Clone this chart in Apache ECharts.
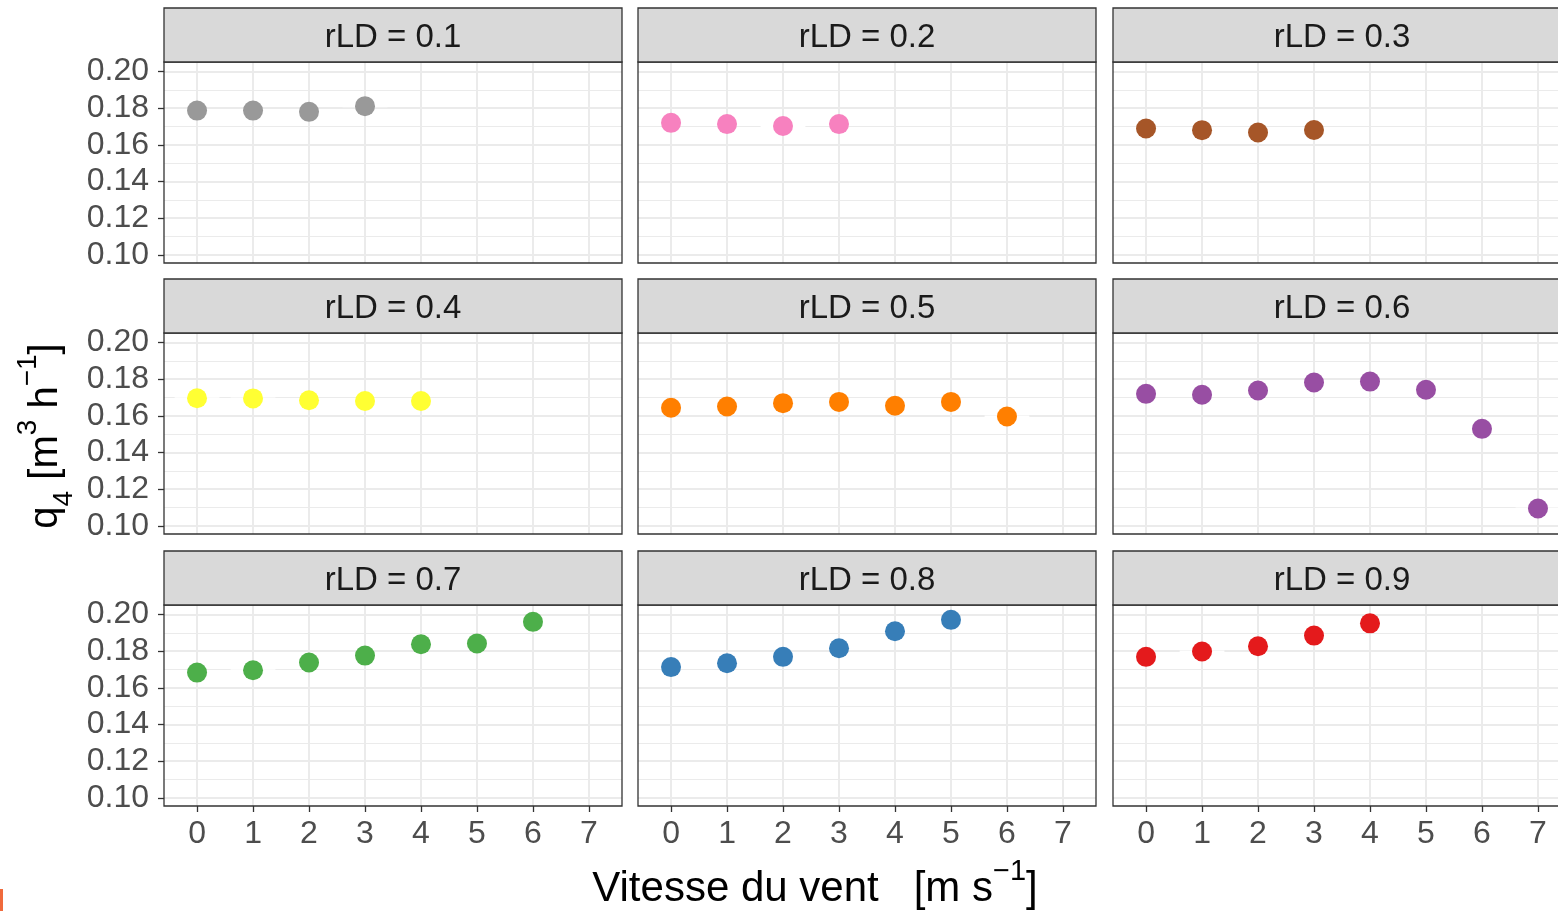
<!DOCTYPE html>
<html>
<head>
<meta charset="utf-8">
<script src="https://cdn.jsdelivr.net/npm/echarts@6/dist/echarts.min.js"></script>
<style>
  html, body { margin: 0; padding: 0; background: #ffffff; overflow: hidden; }
  #chart { width: 1558px; height: 911px; }
</style>
</head>
<body>
<div id="chart"></div>
<script>
// ---------------- data ----------------
const categories = ['rLD = 0.1', 'rLD = 0.2', 'rLD = 0.3', 'rLD = 0.4', 'rLD = 0.5', 'rLD = 0.6', 'rLD = 0.7', 'rLD = 0.8', 'rLD = 0.9'];
const windSpeed = [0, 1, 2, 3, 4, 5, 6, 7];
const q4_rLD01 = [0.1787, 0.1787, 0.1780, 0.1811];
const q4_rLD02 = [0.1720, 0.1713, 0.1703, 0.1713];
const q4_rLD03 = [0.1689, 0.1680, 0.1667, 0.1681];
const q4_rLD04 = [0.1696, 0.1695, 0.1685, 0.1681, 0.1681];
const q4_rLD05 = [0.1644, 0.1651, 0.1669, 0.1676, 0.1655, 0.1676, 0.1596];
const q4_rLD06 = [0.1720, 0.1715, 0.1738, 0.1782, 0.1787, 0.1742, 0.1529, 0.1094];
const q4_rLD07 = [0.1683, 0.1696, 0.1738, 0.1776, 0.1838, 0.1842, 0.1960];
const q4_rLD08 = [0.1713, 0.1734, 0.1769, 0.1816, 0.1909, 0.1971];
const q4_rLD09 = [0.1769, 0.1798, 0.1827, 0.1885, 0.1952];
const seriesValues = [q4_rLD01, q4_rLD02, q4_rLD03, q4_rLD04, q4_rLD05, q4_rLD06, q4_rLD07, q4_rLD08, q4_rLD09];
const seriesColors = ['#999999', '#F781BF', '#A65628', '#FFFF33', '#FF7F00', '#984EA3', '#4DAF4A', '#377EB8', '#E41A1C'];
const xTickMin = 0, xTickMax = 7, xTickStep = 1;
const yTickMin = 0.10, yTickMax = 0.20, yTickStep = 0.02;

// ---------------- layout / style ----------------
const FONT = '"Liberation Sans", Arial, Helvetica, sans-serif';
const XMIN = -0.59, XMAX = 7.59;
const YMIN = 0.0955, YMAX = 0.2052;
const PANEL_W = 458, PANEL_H = 201, STRIP_H = 54;
const colLeft = [164, 638, 1113];
const rowTop = [62, 333, 605];
const HALF = 0.4;
const GRID_COLOR = '#ebebeb';
const DARK = '#333333';

const grids = [], xAxes = [], yAxes = [], series = [], graphics = [];

categories.forEach((cat, i) => {
  const r = Math.floor(i / 3), c = i % 3;
  const L = colLeft[c], T = rowTop[r];
  const leftCol = c === 0, bottomRow = r === 2;
  const base = grids.length;

  // grid A: full panel, holds the data
  grids.push({ left: L, top: T, width: PANEL_W, height: PANEL_H, show: true, outerBoundsMode: 'none',
    borderColor: DARK, borderWidth: 1.3, backgroundColor: 'transparent', z: 1 });
  xAxes.push({ gridIndex: base, type: 'value', min: XMIN, max: XMAX, show: false });
  yAxes.push({ gridIndex: base, type: 'value', min: YMIN, max: YMAX, show: false });

  // grid B: x tick span
  const bx = L + (xTickMin - XMIN) / (XMAX - XMIN) * PANEL_W;
  const bw = (xTickMax - xTickMin) / (XMAX - XMIN) * PANEL_W;
  grids.push({ left: bx, top: T, width: bw, height: PANEL_H, outerBoundsMode: 'none' });
  xAxes.push({ gridIndex: base + 1, type: 'value', min: xTickMin, max: xTickMax, interval: xTickStep,
    position: 'bottom',
    axisLine: { show: false },
    axisTick: { show: bottomRow, length: 6, lineStyle: { color: DARK, width: 1.3 } },
    axisLabel: { show: bottomRow, fontSize: 32, fontFamily: FONT, color: '#4d4d4d', margin: 12 },
    splitLine: { show: true, lineStyle: { color: GRID_COLOR, width: 2 } } });
  yAxes.push({ gridIndex: base + 1, type: 'value', min: 0, max: 1, show: false });

  // grid C: y tick span
  const cy = T + (YMAX - yTickMax) / (YMAX - YMIN) * PANEL_H;
  const ch = (yTickMax - yTickMin) / (YMAX - YMIN) * PANEL_H;
  grids.push({ left: L, top: cy, width: PANEL_W, height: ch, outerBoundsMode: 'none' });
  xAxes.push({ gridIndex: base + 2, type: 'value', min: 0, max: 1, show: false });
  yAxes.push({ gridIndex: base + 2, type: 'value', min: yTickMin, max: yTickMax, interval: yTickStep,
    axisLine: { show: false },
    axisTick: { show: leftCol, length: 6, lineStyle: { color: DARK, width: 1.3 } },
    axisLabel: { show: leftCol, fontSize: 32, fontFamily: FONT, color: '#4d4d4d', margin: 15,
      padding: [6, 0, 0, 0], formatter: v => v.toFixed(2) },
    splitLine: { show: true, lineStyle: { color: GRID_COLOR, width: 2 } },
    minorTick: { show: false, splitNumber: 2 },
    minorSplitLine: { show: true, lineStyle: { color: GRID_COLOR, width: 1 } } });

  const data = seriesValues[i].map((v, j) => [windSpeed[j], v]);
  series.push({
    type: 'custom', xAxisIndex: base, yAxisIndex: base, z: 2, silent: true, clip: false,
    data: data,
    renderItem: (params, api) => {
      const x = api.value(0), y = api.value(1);
      const p1 = api.coord([x - HALF, y]), p2 = api.coord([x + HALF, y]);
      return { type: 'line', shape: { x1: p1[0], y1: p1[1], x2: p2[0], y2: p2[1] },
        style: { stroke: '#ffffff', lineWidth: 2 } };
    }
  });
  series.push({
    type: 'scatter', xAxisIndex: base, yAxisIndex: base, z: 3, clip: false, silent: true,
    data: data, symbolSize: 20,
    itemStyle: { color: seriesColors[i], opacity: 1 }
  });

  // strip
  graphics.push({ type: 'rect', shape: { x: L, y: T - STRIP_H, width: PANEL_W, height: STRIP_H },
    style: { fill: '#d9d9d9', stroke: DARK, lineWidth: 1.3 }, z: 5 });
  graphics.push({ type: 'text', x: L + PANEL_W / 2, y: T - STRIP_H / 2 + 3, z: 6,
    style: { text: cat, font: '33px ' + FONT, fill: '#1a1a1a',
      align: 'center', verticalAlign: 'middle', textAlign: 'center', textVerticalAlign: 'middle' } });
});

// axis titles
graphics.push({ type: 'text', x: 815, y: 889, z: 6,
  style: { text: '{a|Vitesse du vent   [m s}{sup|\u22121}{a|]}',
    align: 'center', verticalAlign: 'middle', textAlign: 'center', textVerticalAlign: 'middle',
    rich: {
      a: { fontSize: 42, fontFamily: FONT, color: '#000000', lineHeight: 64, verticalAlign: 'middle' },
      sup: { fontSize: 29, fontFamily: FONT, color: '#000000', lineHeight: 28, verticalAlign: 'top' }
    } } });
graphics.push({ type: 'text', x: 46, y: 436, rotation: Math.PI / 2, z: 6,
  style: { text: '{a|q}{sub|4}{a| [m}{sup|3}{a| h}{sup|\u22121}{a|]}',
    align: 'center', verticalAlign: 'middle', textAlign: 'center', textVerticalAlign: 'middle',
    rich: {
      a: { fontSize: 40, fontFamily: FONT, color: '#000000', lineHeight: 64, verticalAlign: 'middle' },
      sub: { fontSize: 28, fontFamily: FONT, color: '#000000', lineHeight: 28, verticalAlign: 'bottom' },
      sup: { fontSize: 28, fontFamily: FONT, color: '#000000', lineHeight: 28, verticalAlign: 'top' }
    } } });
// small cropped mark at the bottom-left edge
graphics.push({ type: 'rect', shape: { x: 0, y: 889, width: 3, height: 22 },
  style: { fill: '#f06a3c' }, z: 6 });

const chart = echarts.init(document.getElementById('chart'), null, { renderer: 'canvas' });
chart.setOption({
  backgroundColor: '#ffffff',
  animation: false,
  grid: grids,
  xAxis: xAxes,
  yAxis: yAxes,
  series: series,
  graphic: { elements: graphics }
});
</script>
</body>
</html>
